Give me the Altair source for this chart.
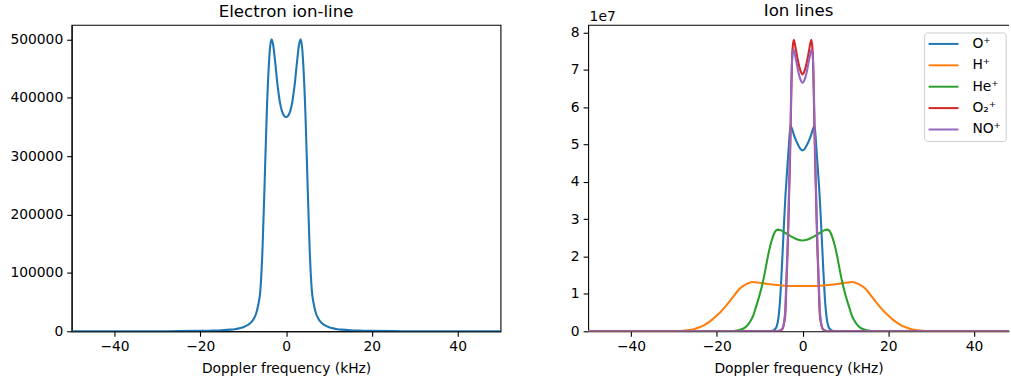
import altair as alt
import pandas as pd

# ---------------- data ----------------
ELEC_X = [-50, -40, -30, -25, -20, -17, -15, -13, -12, -11,
          -10, -9, -8, -7.5, -7, -6.5, -6, -5.5, -5, -4.5,
          -4, -3.7, -3.35, -3, -2.5, -2, -1.5, -1, -0.5, 0,
          0.5, 1, 1.5, 2, 2.5, 3, 3.35, 3.7, 4, 4.5,
          5, 5.5, 6, 6.5, 7, 7.5, 8, 9, 10, 11,
          12, 13, 15, 17, 20, 25, 30, 40, 50]
ELEC_Y = [0, 50, 150, 300, 700, 1200, 1800, 2800, 3600, 5000,
          7000, 10500, 16500, 22000, 30000, 45000, 70000, 140000, 255000, 375000,
          458000, 489000, 500000, 490000, 458000, 422000, 395000, 378000, 369500, 367000,
          369500, 378000, 395000, 422000, 458000, 490000, 500000, 489000, 458000, 375000,
          255000, 140000, 70000, 45000, 30000, 22000, 16500, 10500, 7000, 5000,
          3600, 2800, 1800, 1200, 700, 300, 150, 50, 0]

# ion lines, values in units of 1e7
O_X = [-50, -10, -8, -7, -6.5, -6.0, -5.6, -5.2, -4.8, -4.4,
       -4.0, -3.6, -3.2, -2.8, -2.4, -2.0, -1.5, -1.0, -0.5, 0,
       0.5, 1.0, 1.5, 2.0, 2.4, 2.8, 3.2, 3.6, 4.0, 4.4,
       4.8, 5.2, 5.6, 6.0, 6.5, 7, 8, 10, 50]
O_Y = [0, 0, 0.002, 0.015, 0.05, 0.14, 0.38, 0.9, 1.75, 2.7,
       3.6, 4.3, 4.95, 5.5, 5.4, 5.25, 5.1, 4.98, 4.88, 4.84,
       4.88, 4.98, 5.1, 5.25, 5.4, 5.5, 4.95, 4.3, 3.6, 2.7,
       1.75, 0.9, 0.38, 0.14, 0.05, 0.015, 0.002, 0, 0]

H_X = [-50, -36, -33, -30, -28, -26, -25, -24, -23, -22, -21, -20, -19, -18, -17, -16,
       -15, -14, -13, -11.6, -10, -8, -6, -4, -2, 0, 2, 4, 6, 8, 10, 11.6, 13, 14, 15,
       16, 17, 18, 19, 20, 21, 22, 23, 24, 25, 26, 28, 30, 33, 36, 50]
H_Y = [0, 0, 0.002, 0.006, 0.015, 0.04, 0.065, 0.11, 0.16, 0.23, 0.32, 0.42, 0.53, 0.66, 0.8, 0.95,
       1.1, 1.2, 1.27, 1.32, 1.3, 1.265, 1.24, 1.22, 1.212, 1.21, 1.212, 1.22, 1.24, 1.265, 1.3, 1.32, 1.27, 1.2, 1.1,
       0.95, 0.8, 0.66, 0.53, 0.42, 0.32, 0.23, 0.16, 0.11, 0.065, 0.04, 0.015, 0.006, 0.002, 0, 0]

HE_X = [-50, -20, -18, -16, -15, -14, -13, -12, -11.5, -11, -10.5, -10, -9.5, -9, -8.5, -8,
        -7.5, -7, -6.5, -5.8, -5, -4, -3, -2, -1, 0, 1, 2, 3, 4, 5, 5.8, 6.5, 7, 7.5,
        8, 8.5, 9, 9.5, 10, 10.5, 11, 11.5, 12, 13, 14, 15, 16, 18, 20, 50]
HE_Y = [0, 0, 0.002, 0.01, 0.025, 0.06, 0.14, 0.3, 0.42, 0.6, 0.78, 0.98, 1.2, 1.45, 1.75, 2.05,
        2.3, 2.5, 2.65, 2.72, 2.7, 2.63, 2.56, 2.5, 2.45, 2.43, 2.45, 2.5, 2.56, 2.63, 2.7, 2.72, 2.65, 2.5, 2.3,
        2.05, 1.75, 1.45, 1.2, 0.98, 0.78, 0.6, 0.42, 0.3, 0.14, 0.06, 0.025, 0.01, 0.002, 0, 0]

O2_X = [-50, -7, -5.5, -4.76, -4.3, -3.99, -3.7, -3.44, -3.25, -3.06, -2.9, -2.74, -2.6, -2.44,
        -2.25, -2.04, -1.5, -1.0, -0.5, 0, 0.5, 1.0, 1.5, 2.04, 2.25, 2.44, 2.6, 2.74, 2.9,
        3.06, 3.25, 3.44, 3.7, 3.99, 4.3, 4.76, 5.5, 7, 50]
O2_Y = [0, 0, 0.01, 0.05, 0.22, 0.5, 1.45, 2.27, 3.1, 4.0, 4.7, 5.6, 6.5, 7.3,
        7.65, 7.8, 7.5, 7.2, 6.98, 6.87, 6.98, 7.2, 7.5, 7.8, 7.65, 7.3, 6.5, 5.6, 4.7,
        4.0, 3.1, 2.27, 1.45, 0.5, 0.22, 0.05, 0.01, 0, 0]

NO_X = [-50, -7, -5.5, -4.8, -4.35, -4.05, -3.75, -3.5, -3.3, -3.1, -2.95, -2.8, -2.65, -2.5,
        -2.35, -2.15, -1.5, -1.0, -0.5, 0, 0.5, 1.0, 1.5, 2.15, 2.35, 2.5, 2.65, 2.8, 2.95,
        3.1, 3.3, 3.5, 3.75, 4.05, 4.35, 4.8, 5.5, 7, 50]
NO_Y = [0, 0, 0.015, 0.06, 0.22, 0.55, 1.45, 2.25, 3.1, 4.0, 4.75, 5.55, 6.4, 7.1,
        7.4, 7.54, 7.25, 6.95, 6.74, 6.65, 6.74, 6.95, 7.25, 7.54, 7.4, 7.1, 6.4, 5.55, 4.75,
        4.0, 3.1, 2.25, 1.45, 0.55, 0.22, 0.06, 0.015, 0, 0]

ION_LABELS = ["O\u207a", "H\u207a", "He\u207a", "O\u2082\u207a", "NO\u207a"]
ION_COLORS = ["#1f77b4", "#ff7f0e", "#2ca02c", "#d62728", "#9467bd"]
ION_SERIES = [(O_X, O_Y), (H_X, H_Y), (HE_X, HE_Y), (O2_X, O2_Y), (NO_X, NO_Y)]

X_TICKS = [-40, -20, 0, 20, 40]
LEFT_Y_TICKS = [0, 100000, 200000, 300000, 400000, 500000]
RIGHT_Y_TICKS = [0, 1, 2, 3, 4, 5, 6, 7, 8]

# ---------------- tables ----------------
assert len(ELEC_X) == len(ELEC_Y)
df_e = pd.DataFrame({"f": ELEC_X, "p": ELEC_Y})
rows = []
for lab, (xs, ys) in zip(ION_LABELS, ION_SERIES):
    assert len(xs) == len(ys), lab
    for xv, yv in zip(xs, ys):
        rows.append({"f": xv, "p": yv, "species": lab})
df_i = pd.DataFrame(rows)

FONT = "DejaVu Sans"
FS = 13.9
BLACK = "#000000"

x_title = "Doppler frequency (kHz)"

left = alt.Chart(df_e, title=alt.Title("Electron ion-line", offset=3.8)).mark_line(
    color="#1f77b4", strokeWidth=2.1, interpolate="monotone", clip=True
).encode(
    x=alt.X("f:Q", title=x_title,
            scale=alt.Scale(domain=[-50, 50], nice=False, zero=False),
            axis=alt.Axis(values=X_TICKS)),
    y=alt.Y("p:Q", title=None,
            scale=alt.Scale(domain=[0, 525000], nice=False),
            axis=alt.Axis(values=LEFT_Y_TICKS, format="d", minExtent=71, maxExtent=71)),
).properties(width=431, height=308)

color = alt.Color(
    "species:N",
    scale=alt.Scale(domain=ION_LABELS, range=ION_COLORS),
    legend=alt.Legend(
        title=None, orient="none", legendX=337.7, legendY=7.7,
        symbolType="M-2.5,0H2.5", symbolSize=144, symbolStrokeWidth=2,
        symbolOffset=8,
        labelFont=FONT, labelFontSize=FS, labelColor=BLACK, labelOffset=22,
        rowPadding=7.5, padding=4.5, strokeColor="#cccccc",
        fillColor="rgba(255,255,255,0.8)", cornerRadius=3,
    ),
)

ion_layers = []
for lab in ION_LABELS:
    ion_layers.append(
        alt.Chart(df_i).transform_filter(alt.datum.species == lab).mark_line(
            strokeWidth=2.1, interpolate="monotone", clip=True
        ).encode(
            x=alt.X("f:Q", title=x_title,
                    scale=alt.Scale(domain=[-50, 48.14], nice=False, zero=False),
                    axis=alt.Axis(values=X_TICKS)),
            y=alt.Y("p:Q", title="1e7",
                    scale=alt.Scale(domain=[0, 8.2], nice=False),
                    axis=alt.Axis(values=RIGHT_Y_TICKS, minExtent=20, maxExtent=20,
                                  titleAngle=0, titleX=1, titleY=-4.5,
                                  titleAlign="left", titleBaseline="alphabetic")),
            color=color,
        )
    )

# single top frame line for the right panel (its right edge is cut by the page)
top_spine = alt.Chart(alt.Data(values=[{"k": 0}])).mark_rule(
    color=BLACK, strokeWidth=1.1
).encode(
    x=alt.value(0), x2=alt.value(423), y=alt.value(0.5)
)

right = alt.layer(*ion_layers, top_spine, title=alt.Title("Ion lines", offset=-10.5)).properties(
    width=423, height=308, view=alt.ViewBackground(stroke="transparent")
)

chart = alt.hconcat(left, right, spacing=66).resolve_scale(
    color="independent"
).resolve_legend(
    color="independent"
).properties(
    padding={"left": 0, "top": 1.0, "right": 0, "bottom": 0}
).configure_view(
    stroke=BLACK, strokeWidth=1.1
).configure_axis(
    grid=False, domainColor=BLACK, domainWidth=1.1, tickColor=BLACK, tickWidth=1.1,
    tickSize=5, labelColor=BLACK, labelFont=FONT, labelFontSize=FS, labelPadding=4,
    titleColor=BLACK, titleFont=FONT, titleFontSize=FS, titleFontWeight="normal",
    titlePadding=4,
).configure_axisX(
    labelPadding=3, titlePadding=9
).configure_title(
    font=FONT, fontSize=16.7, fontWeight="normal", color=BLACK,
    anchor="middle", frame="group", baseline="alphabetic"
)

chart.save("out.html", embed_options={"renderer": "svg", "actions": False})
